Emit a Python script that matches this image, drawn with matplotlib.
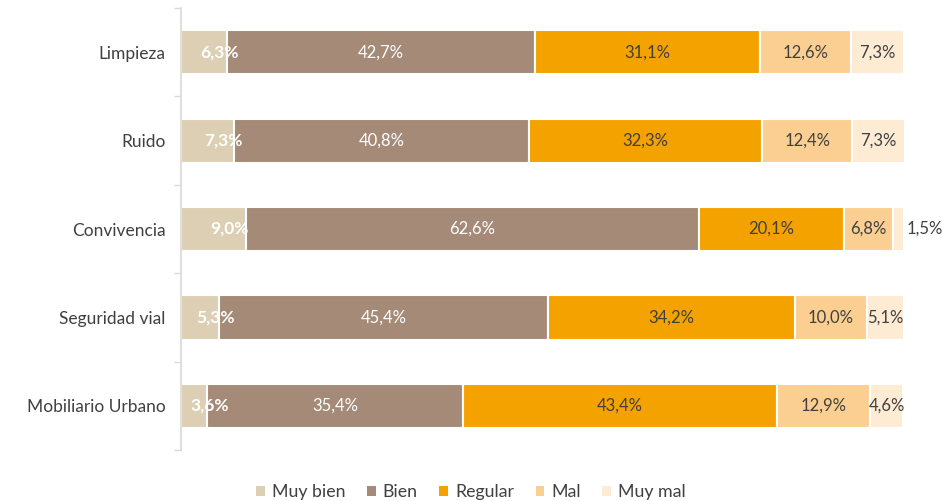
import matplotlib
matplotlib.use("Agg")
import matplotlib.pyplot as plt
from matplotlib.patches import Patch
import numpy as np

categories = ["Limpieza", "Ruido", "Convivencia", "Seguridad vial", "Mobiliario Urbano"]
series = ["Muy bien", "Bien", "Regular", "Mal", "Muy mal"]
muy_bien = [6.3, 7.3, 9.0, 5.3, 3.6]
bien = [42.7, 40.8, 62.6, 45.4, 35.4]
regular = [31.1, 32.3, 20.1, 34.2, 43.4]
mal = [12.6, 12.4, 6.8, 10.0, 12.9]
muy_mal = [7.3, 7.3, 1.5, 5.1, 4.6]

colors = ["#DDCFB3", "#A58A77", "#F3A200", "#FBCF91", "#FDEBD4"]
label_colors = ["white", "white", "#404040", "#404040", "#404040"]

plt.rcParams['font.family'] = ['Lato', 'DejaVu Sans']

fig = plt.figure(figsize=(9.42, 5.01), dpi=100)
ax = fig.add_axes([181/942, 1 - 450/501, (904 - 181)/942, 442/501])

data = [muy_bien, bien, regular, mal, muy_mal]
y = np.arange(len(categories))
left = np.zeros(len(categories))
for i, (name, vals) in enumerate(zip(series, data)):
    vals = np.array(vals)
    ax.barh(y, vals, left=left, height=0.5, color=colors[i],
            edgecolor="white", linewidth=1.5, label=name)
    for j, v in enumerate(vals):
        txt = f"{v:.1f}".replace(".", ",") + "%"
        cx = left[j] + v / 2
        if i == 0:
            ax.text(cx - 0.5, y[j], txt, ha="left", va="center",
                    color="white", fontsize=12.5, fontweight="bold")
        elif v < 3:
            ax.text(left[j] + v + 0.3, y[j], txt, ha="left", va="center",
                    color=label_colors[i], fontsize=12)
        else:
            ax.text(cx, y[j], txt, ha="center", va="center",
                    color=label_colors[i], fontsize=12)
    left += vals

ax.set_xlim(0, 100)
ax.set_ylim(4.5, -0.5)
ax.set_yticks(y)
ax.set_yticklabels(categories, fontsize=12.5, color="#404040")
ax.tick_params(axis="y", which="major", length=0, pad=11)
ax.set_yticks(np.arange(-0.5, 5, 1), minor=True)
ax.tick_params(axis="y", which="minor", length=5, color="#D9D9D9", width=1)
ax.set_xticks([])
for s in ["top", "right", "bottom"]:
    ax.spines[s].set_visible(False)
ax.spines["left"].set_color("#D9D9D9")
ax.spines["left"].set_linewidth(1.2)

handles = [Patch(facecolor=c, edgecolor="none") for c in colors]
fig.legend(handles, series, loc="center", bbox_to_anchor=(471/942, 1 - 492/501),
           ncol=5, frameon=False, fontsize=12.8, handlelength=0.5, handleheight=0.5,
           columnspacing=1.2, handletextpad=0.4, labelcolor="#404040")

fig.savefig("out.png", dpi=100)
